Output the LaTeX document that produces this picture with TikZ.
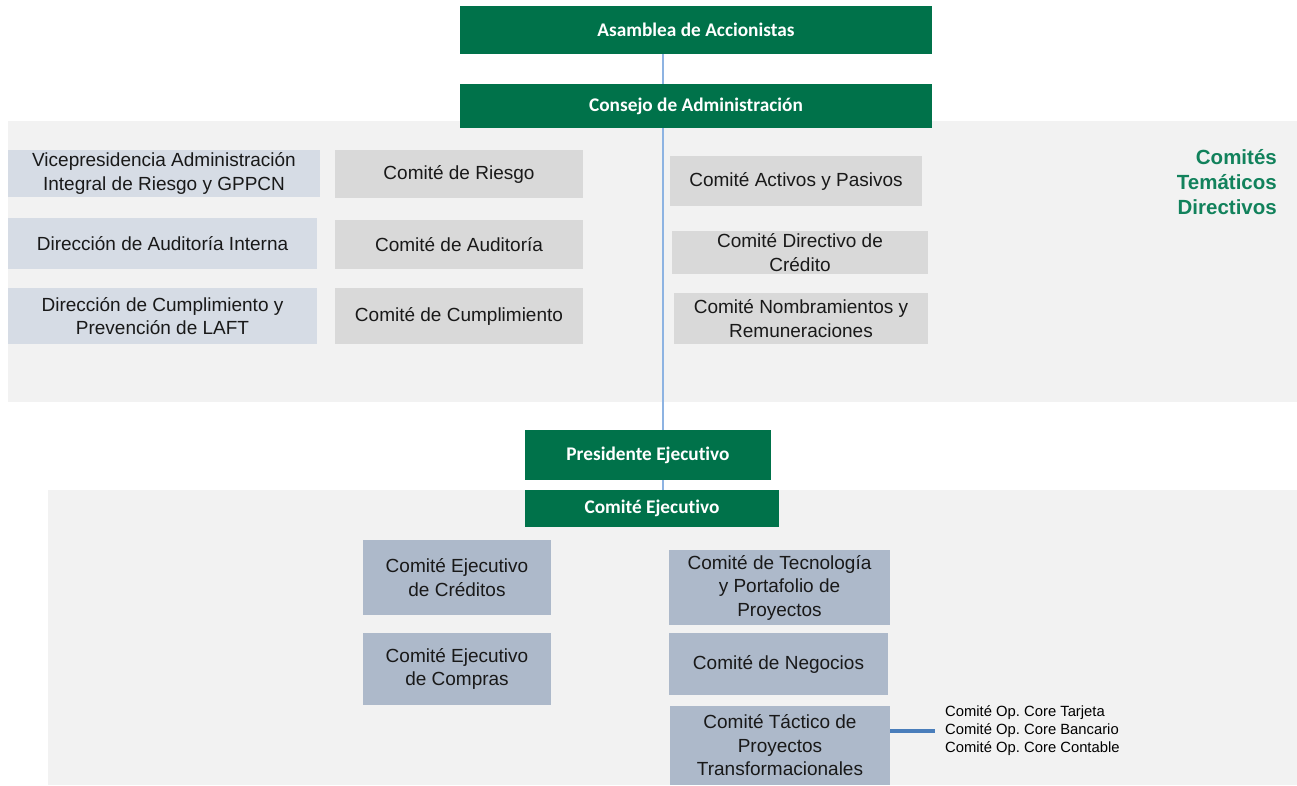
\documentclass[tikz,border=0pt]{standalone}
\usepackage{fontspec}
\setmainfont{Liberation Sans}
\newfontfamily\hdfont[Ligatures=NoCommon]{Carlito}
\usepackage{tikz}
\definecolor{vgreen}{RGB}{0,114,74}
\definecolor{panelgray}{RGB}{242,242,242}
\definecolor{boxblue}{RGB}{214,220,229}
\definecolor{boxgray}{RGB}{217,217,217}
\definecolor{boxsteel}{RGB}{173,185,202}
\definecolor{spineblue}{RGB}{141,179,226}
\definecolor{opblue}{RGB}{74,126,187}
\definecolor{ttlgreen}{RGB}{18,130,92}

\begin{document}
\begin{tikzpicture}[x=1pt, y=-1pt,
  gbox/.style={fill=vgreen, text=white, inner sep=0pt,
    font=\hdfont\bfseries\fontsize{19.3}{23}\selectfont},
  cbox/.style={text=black!90, inner sep=0pt, align=center,
    font=\fontsize{19}{23.5}\selectfont},
  spine/.style={draw=spineblue, line width=1.6pt},
  opline/.style={draw=opblue, line width=3.2pt}]

  \useasboundingbox (0,0) rectangle (1297,785);

  %% background panels
  \fill[panelgray] (8,121) rectangle (1297,402);
  \fill[panelgray] (48,490) rectangle (1297,785);

  %% top of the chart
  \node[gbox, minimum width=472, minimum height=48] (asamblea) at (696,30) {Asamblea de Accionistas};
  \node[gbox, minimum width=472, minimum height=44] (consejo) at (696,106) {Consejo de Administración};
  \node[gbox, minimum width=246, minimum height=50] (presidente) at (648,455) {Presidente Ejecutivo};
  \node[gbox, minimum width=254, minimum height=37] (cejecutivo) at (652,508.5) {Comité Ejecutivo};

  %% board level
  \node[cbox, fill=boxblue, minimum width=312, minimum height=47] (vicepres) at (164,173.5)
    {Vicepresidencia Administración\\Integral de Riesgo y GPPCN};
  \node[cbox, fill=boxblue, minimum width=309, minimum height=51] (dauditoria) at (162.5,243.5)
    {Dirección de Auditoría Interna};
  \node[cbox, fill=boxblue, minimum width=309, minimum height=56] (dcumplim) at (162.5,316)
    {Dirección de Cumplimiento y\\Prevención de LAFT};

  \node[cbox, fill=boxgray, minimum width=248, minimum height=48] (criesgo) at (459,174) {Comité de Riesgo};
  \node[cbox, fill=boxgray, minimum width=248, minimum height=49] (cauditoria) at (459,244.5) {Comité de Auditoría};
  \node[cbox, fill=boxgray, minimum width=248, minimum height=56] (ccumplim) at (459,316) {Comité de Cumplimiento};

  \node[cbox, fill=boxgray, minimum width=252, minimum height=50] (cactivos) at (796,181) {Comité Activos y Pasivos};
  \node[cbox, fill=boxgray, minimum width=256, minimum height=43] (cdirectivo) at (800,252.5)
    {Comité Directivo de\\Crédito};
  \node[cbox, fill=boxgray, minimum width=254, minimum height=51] (cnombram) at (801,318.5)
    {Comité Nombramientos y\\Remuneraciones};

  \node[anchor=east, align=right, inner sep=0pt, text=ttlgreen,
    font=\bfseries\fontsize{20.5}{25}\selectfont] (titulo) at (1277,182)
    {Comités\\Temáticos\\Directivos};

  %% executive level
  \node[cbox, fill=boxsteel, minimum width=188, minimum height=75] (cecreditos) at (457,577.5)
    {Comité Ejecutivo\\de Créditos};
  \node[cbox, fill=boxsteel, minimum width=188, minimum height=72] (cecompras) at (457,669)
    {Comité Ejecutivo\\de Compras};
  \node[cbox, fill=boxsteel, minimum width=221, minimum height=75] (ctecnol) at (779.5,587.5)
    {Comité de Tecnología\\y Portafolio de\\Proyectos};
  \node[cbox, fill=boxsteel, minimum width=219, minimum height=62] (cnegocios) at (778.5,664)
    {Comité de Negocios};
  \node[cbox, fill=boxsteel, minimum width=220, minimum height=79] (ctactico) at (780,745.5)
    {Comité Táctico de\\Proyectos\\Transformacionales};

  \node[anchor=west, align=left, inner sep=0pt, text=black,
    font=\frenchspacing\fontsize{14.8}{18}\selectfont] (coreops) at (945,731)
    {Comité Op. Core Tarjeta\\Comité Op. Core Bancario\\Comité Op. Core Contable};

  %% connectors
  \coordinate (axis) at (663,0);
  \draw[spine] (asamblea.south -| axis) -- (consejo.north -| axis);
  \draw[spine] (consejo.south -| axis) -- (presidente.north -| axis);
  \draw[spine] (presidente.south -| axis) -- (cejecutivo.north -| axis);
  \draw[opline] (coreops.west -| ctactico.east) -- ([xshift=-10pt]coreops.west);
\end{tikzpicture}
\end{document}
